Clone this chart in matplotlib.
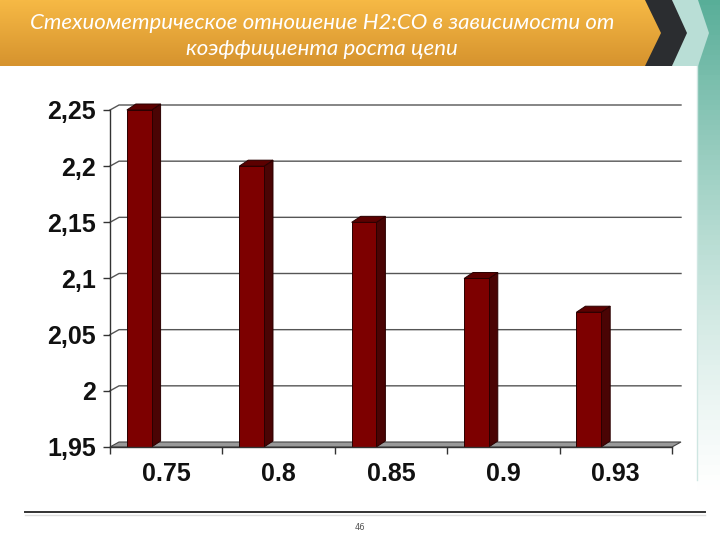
import numpy as np
import matplotlib.pyplot as plt
from matplotlib.patches import Polygon

# data
categories = ["0.75", "0.8", "0.85", "0.9", "0.93"]
ratio = [2.25, 2.2, 2.15, 2.1, 2.07]
yticks = [1.95, 2.0, 2.05, 2.1, 2.15, 2.2, 2.25]
title = "Стехиометрическое отношение H2:CO в зависимости от\nкоэффициента роста цепи"
page = "46"

W, H = 720, 540
fig = plt.figure(figsize=(7.2, 5.4), dpi=100)
fig.patch.set_facecolor("white")

# background axes in pixel units for slide decoration
bg = fig.add_axes([0, 0, 1, 1])
bg.set_xlim(0, W)
bg.set_ylim(H, 0)
bg.axis("off")

# teal strip on the right, fading down
strip = np.ones((100, 1, 4))
strip[:, 0, :3] = np.array([0x58, 0xAE, 0x98]) / 255
strip[:, 0, 3] = np.linspace(1, 0, 100) ** 1.3
bg.imshow(strip, extent=[697, 720, 500, 0], aspect="auto", zorder=0)
bg.plot([697, 697], [60, 480], color="#cfe6e2", lw=1, zorder=1)

# chevrons at top right
light = Polygon([[672, 0], [698, 0], [709, 33], [698, 66], [672, 66], [684, 33]],
                closed=True, fc="#b9ded6", ec="none", zorder=2)
dark = Polygon([[640, 0], [672, 0], [687, 33], [672, 66], [640, 66], [655, 33]],
               closed=True, fc="#2b2d30", ec="none", zorder=3)
bg.add_patch(light)
bg.add_patch(dark)

# orange banner with vertical gradient
banner = Polygon([[0, 0], [645, 0], [661, 33], [645, 66], [0, 66]],
                 closed=True, fc="none", ec="none", zorder=4)
bg.add_patch(banner)
grad = np.zeros((60, 1, 3))
top_c = np.array([0xF6, 0xB9, 0x45]) / 255
bot_c = np.array([0xD6, 0x93, 0x2E]) / 255
for i in range(60):
    t = i / 59
    grad[i, 0] = top_c * (1 - t) + bot_c * t
im = bg.imshow(grad, extent=[0, 662, 66, 0], aspect="auto", zorder=4)
im.set_clip_path(banner)
bg.text(322, 36, title, color="white", fontsize=16, style="italic",
        family="Lato", ha="center", va="center", linespacing=1.32, zorder=5)

# footer
bg.plot([25, 705], [512, 512], color="#333333", lw=1.4, zorder=1)
bg.plot([25, 705], [515, 515], color="#dddddd", lw=1, zorder=1)
bg.text(360, 527, page, fontsize=6, color="#555555", ha="center", va="center")

# chart axes
x0, x1, ytop, ybot = 110, 672, 110, 447
ax = fig.add_axes([x0 / W, 1 - ybot / H, (x1 - x0) / W, (ybot - ytop) / H])
ax.set_xlim(0, len(categories))
ax.set_ylim(yticks[0], yticks[-1])
ax.patch.set_alpha(0)
for s in ["top", "right", "bottom"]:
    ax.spines[s].set_visible(False)
ax.spines["left"].set_color("#333333")
ax.spines["left"].set_linewidth(1)

px_x = (x1 - x0) / len(categories)
px_y = (ybot - ytop) / (yticks[-1] - yticks[0])
dx = 9 / px_x
dy = 5 / px_y
ybase = yticks[0]

# back wall gridlines with connectors
for v in yticks[1:]:
    ax.plot([0, dx, len(categories) + dx], [v, v + dy, v + dy],
            color="#555555", lw=1, zorder=1, clip_on=False)

# floor
floor = Polygon([[0, ybase], [len(categories), ybase],
                 [len(categories) + dx, ybase + dy], [dx, ybase + dy]],
                closed=True, fc="#999999", ec="#444444", lw=0.8, zorder=2, clip_on=False)
ax.add_patch(floor)

# bars as front face + side + top
bw = 0.22
left = np.arange(len(categories)) + 0.15
ax.bar(left, np.array(ratio) - ybase, bottom=ybase, width=bw, align="edge",
       color="#7d0000", edgecolor="#2a0000", lw=0.7, zorder=4)
bdx = 9 / px_x
bdy = 6 / px_y
for l, v in zip(left, ratio):
    r = l + bw
    side = Polygon([[r, ybase], [r + bdx, ybase + bdy], [r + bdx, v + bdy], [r, v]],
                   closed=True, fc="#4a0404", ec="#2a0000", lw=0.7, zorder=3, clip_on=False)
    top = Polygon([[l, v], [r, v], [r + bdx, v + bdy], [l + bdx, v + bdy]],
                  closed=True, fc="#5c0000", ec="#2a0000", lw=0.7, zorder=5, clip_on=False)
    ax.add_patch(side)
    ax.add_patch(top)

# front x-axis line
ax.plot([0, len(categories)], [ybase, ybase], color="#333333", lw=1, zorder=6, clip_on=False)

ax.set_yticks(yticks)
ax.set_yticklabels([f"{v:g}".replace(".", ",") for v in yticks])
ax.tick_params(axis="y", length=5, width=1, color="#333333", pad=5, labelsize=18)
ax.set_xticks(np.arange(len(categories) + 1))
ax.set_xticklabels([])
ax.set_xticks(np.arange(len(categories)) + 0.5, minor=True)
ax.set_xticklabels(categories, minor=True)
ax.tick_params(axis="x", which="major", length=5, width=1, color="#333333")
ax.tick_params(axis="x", which="minor", length=0, pad=11, labelsize=18)
for lab in ax.get_yticklabels() + ax.get_xticklabels(minor=True):
    lab.set_family("Liberation Sans")
    lab.set_fontweight("bold")
    lab.set_color("#111111")

fig.savefig("out.png", dpi=100)
